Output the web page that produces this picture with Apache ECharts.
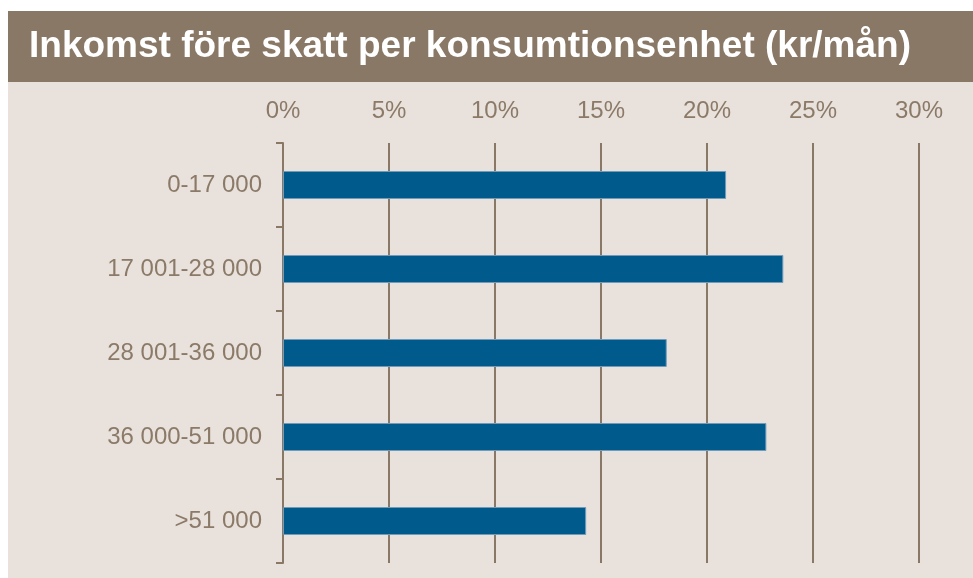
<!DOCTYPE html>
<html>
<head>
<meta charset="utf-8">
<script src="https://cdn.jsdelivr.net/npm/echarts@6/dist/echarts.min.js"></script>
<style>
html, body { margin: 0; padding: 0; background: #ffffff; }
#main { width: 973px; height: 578px; }
</style>
</head>
<body>
<div id="main"></div>
<script>
// data
var titleText = 'Inkomst före skatt per konsumtionsenhet (kr/mån)';
var categories = ['0-17 000', '17 001-28 000', '28 001-36 000', '36 000-51 000', '>51 000'];
var values = [20.9, 23.6, 18.1, 22.8, 14.3];

var brown = '#8a7866';
var beige = '#e9e2dc';
var textColor = '#8b7a68';

var myChart = echarts.init(document.getElementById('main'));

var option = {
    animation: false,
    backgroundColor: '#ffffff',
    graphic: [
        { type: 'rect', z: -10, shape: { x: 8, y: 82, width: 965, height: 496 }, style: { fill: beige } },
        { type: 'rect', z: -10, shape: { x: 8, y: 11, width: 965, height: 71 }, style: { fill: brown } }
    ],
    title: {
        text: titleText,
        left: 24,
        top: 23,
        textStyle: {
            color: '#ffffff',
            fontFamily: 'Liberation Sans',
            fontWeight: 'bold',
            fontSize: 37
        }
    },
    grid: { left: 283, right: 54, top: 143, bottom: 15, containLabel: false },
    xAxis: {
        type: 'value',
        position: 'top',
        min: 0,
        max: 30,
        interval: 5,
        axisLine: { show: false },
        axisTick: { show: false },
        axisLabel: {
            margin: 20,
            color: textColor,
            fontFamily: 'Liberation Sans',
            fontSize: 24,
            formatter: '{value}%'
        },
        splitLine: { show: true, lineStyle: { color: brown, width: 2 } }
    },
    yAxis: {
        type: 'category',
        inverse: true,
        data: categories,
        axisLine: { show: true, lineStyle: { color: brown, width: 2 } },
        axisTick: { show: true, length: 7, lineStyle: { color: brown, width: 2 } },
        axisLabel: {
            margin: 21,
            color: textColor,
            fontFamily: 'Liberation Sans',
            fontSize: 24
        }
    },
    series: [{
        type: 'bar',
        data: values,
        barWidth: 28,
        itemStyle: { color: '#005a8c', borderColor: '#6f9cbd', borderWidth: 1 }
    }]
};

myChart.setOption(option);
</script>
</body>
</html>
